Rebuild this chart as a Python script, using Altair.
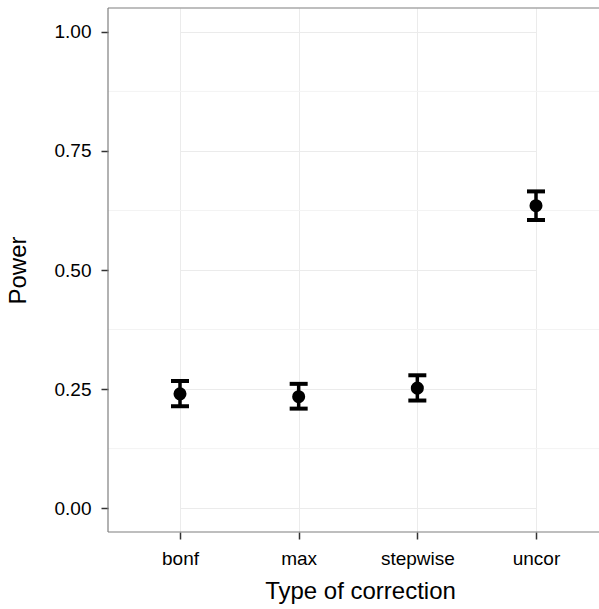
import altair as alt
import pandas as pd

categories = ["bonf", "max", "stepwise", "uncor"]
power = [0.240, 0.234, 0.252, 0.635]
lower = [0.214, 0.209, 0.226, 0.605]
upper = [0.267, 0.261, 0.279, 0.665]
y_ticks = [0.0, 0.25, 0.5, 0.75, 1.0]
y_minor = [0.125, 0.375, 0.625, 0.875]

df = pd.DataFrame({"correction": categories, "power": power,
                   "lower": lower, "upper": upper})
minor_df = pd.DataFrame({"v": y_minor})
border_df = pd.DataFrame({"k": [0]})

W, H = 491, 524
FONT = "Liberation Sans"
BORDER = "#7f7f7f"

xscale = alt.Scale(type="point", domain=categories, range=[72, 428], padding=0)
yscale = alt.Scale(domain=[-0.05, 1.05], nice=False, zero=False)

x_axis = alt.Axis(title="Type of correction", grid=True, gridColor="#ebebeb",
                  gridWidth=1, domain=False,
                  tickColor="#333333", tickWidth=1.5, tickSize=7,
                  labelFont=FONT, labelFontSize=19, labelColor="#000000",
                  labelPadding=10, labelAngle=0,
                  titleFont=FONT, titleFontSize=24, titleFontWeight="normal",
                  titleColor="#000000", titleX=252, titleY=66,
                  titleBaseline="alphabetic", titleAlign="center")
y_axis = alt.Axis(title="Power", values=y_ticks, format=".2f", grid=True,
                  gridColor="#ebebeb", gridWidth=1, domain=False,
                  tickColor="#333333", tickWidth=1.5, tickSize=7,
                  labelFont=FONT, labelFontSize=19, labelColor="#000000",
                  labelPadding=10,
                  titleFont=FONT, titleFontSize=24, titleFontWeight="normal",
                  titleColor="#000000", titleX=-90, titleY=H / 2,
                  titleAngle=-90, titleBaseline="middle", titleAlign="center")

minor = alt.Chart(minor_df).mark_rule(color="#f3f3f3", strokeWidth=1).encode(
    y=alt.Y("v:Q", scale=yscale, axis=y_axis)
)

base = alt.Chart(df)

bars = base.mark_rule(color="black", strokeWidth=3.5).encode(
    x=alt.X("correction:N", scale=xscale, sort=categories, axis=x_axis),
    y=alt.Y("lower:Q", scale=yscale, axis=y_axis),
    y2="upper:Q",
)
cap_hi = base.mark_tick(color="black", size=18, thickness=4, opacity=1).encode(
    x=alt.X("correction:N", scale=xscale, sort=categories),
    y=alt.Y("upper:Q", scale=yscale),
)
cap_lo = base.mark_tick(color="black", size=18, thickness=4, opacity=1).encode(
    x=alt.X("correction:N", scale=xscale, sort=categories),
    y=alt.Y("lower:Q", scale=yscale),
)
points = base.mark_circle(color="black", size=170, opacity=1).encode(
    x=alt.X("correction:N", scale=xscale, sort=categories),
    y=alt.Y("power:Q", scale=yscale),
)
border_top = alt.Chart(border_df).mark_rule(color=BORDER, strokeWidth=1.2).encode(
    x=alt.value(0), x2=alt.value(W), y=alt.value(0)
)
border_bottom = alt.Chart(border_df).mark_rule(color=BORDER, strokeWidth=1.2).encode(
    x=alt.value(0), x2=alt.value(W), y=alt.value(H)
)
border_left = alt.Chart(border_df).mark_rule(color=BORDER, strokeWidth=1.2).encode(
    x=alt.value(0), y=alt.value(0), y2=alt.value(H)
)

chart = alt.layer(minor, bars, cap_hi, cap_lo, points,
                  border_top, border_bottom, border_left).properties(
    width=W, height=H,
    autosize=alt.AutoSizeParams(type="none"),
    padding={"left": 108, "top": 8, "right": 0, "bottom": 77},
    background="white",
).configure_view(stroke=None)

chart.save("out.html", embed_options={"renderer": "svg", "actions": False})
